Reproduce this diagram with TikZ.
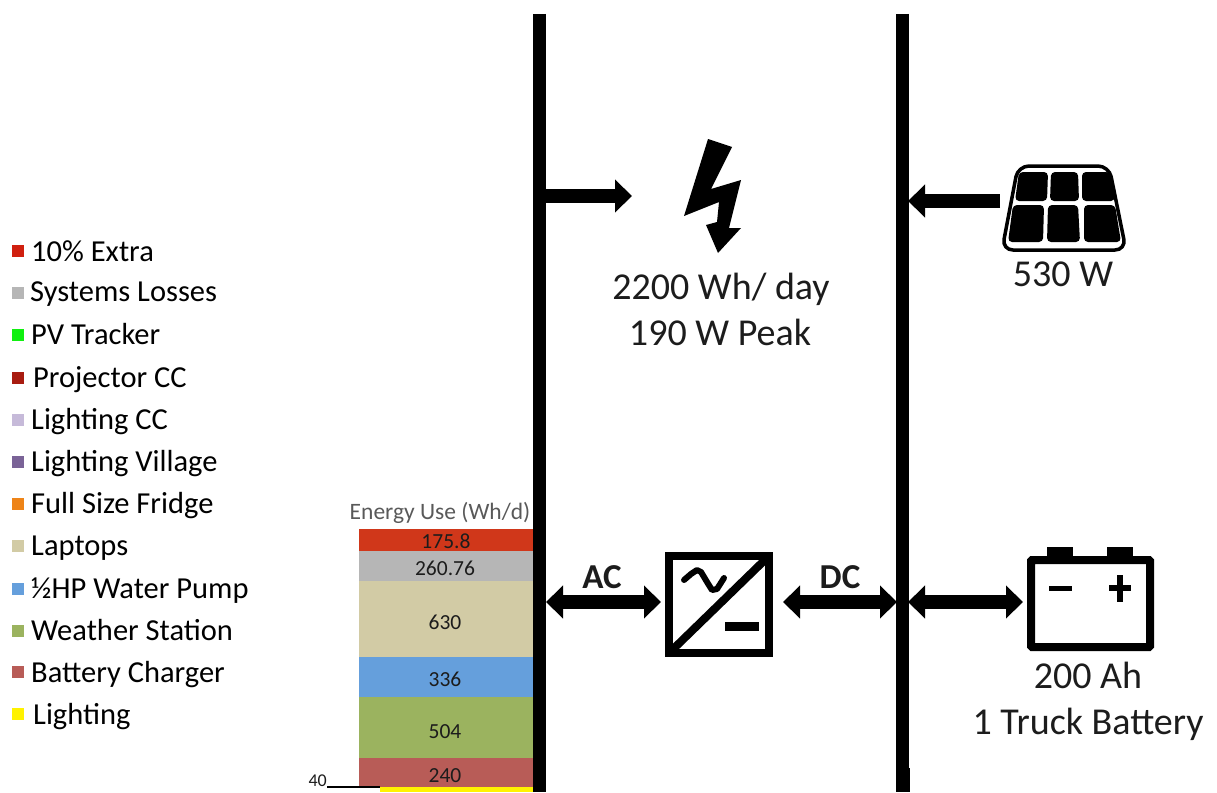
\documentclass[tikz,border=0pt]{standalone}
\usepackage{fontspec}
\setmainfont{Carlito}
\usetikzlibrary{arrows.meta}
\definecolor{extrared}{HTML}{D0371A}
\definecolor{keyred}{HTML}{D0200F}
\definecolor{lossgray}{HTML}{B6B6B6}
\definecolor{laptoptan}{HTML}{D2CBA5}
\definecolor{pumpblue}{HTML}{659FDC}
\definecolor{stationgreen}{HTML}{9BB35F}
\definecolor{chargerred}{HTML}{B85C57}
\definecolor{fridgeorange}{HTML}{EE8418}
\definecolor{villagepurple}{HTML}{7A6397}
\definecolor{ccpurple}{HTML}{C6BAD9}
\definecolor{projred}{HTML}{A81C10}
\definecolor{trackgreen}{HTML}{10F010}
\definecolor{textblack}{HTML}{1C1C1C}
\tikzset{
  legendbox/.style={minimum size=12pt,inner sep=0pt,outer sep=0pt},
  legendtext/.style={anchor=base west,inner sep=0pt,font=\fontsize{30.5}{30.5}\selectfont},
  barval/.style={anchor=base,inner sep=0pt,text=textblack,font=\fontsize{21.5}{21.5}\selectfont},
  caption/.style={anchor=base,inner sep=0pt,text=textblack,font=\fontsize{38}{38}\selectfont},
  wiretext/.style={anchor=base,inner sep=0pt,text=textblack,font=\fontsize{35}{35}\selectfont\bfseries},
  busline/.style={line width=13pt},
  flowarrow/.style={line width=14pt,-{Triangle[length=17pt,width=32pt]}},
  dualarrow/.style={line width=14pt,{Triangle[length=17pt,width=32pt]}-{Triangle[length=17pt,width=32pt]}},
}
\begin{document}
\begin{tikzpicture}[x=1pt,y=-1pt]
\clip (0,0) rectangle (1217,792);

% Draw the stacked bar
\fill[extrared] (359,529) rectangle (533,551);
\fill[lossgray] (359,551) rectangle (533,581);
\fill[laptoptan] (359,581) rectangle (533,657);
\fill[pumpblue] (359,657) rectangle (533,697);
\fill[stationgreen] (359,697) rectangle (533,758);
\fill[chargerred] (359,758) rectangle (533,787);
\fill[yellow] (380,787) rectangle (533,792);
\node[barval] (val175) at (446,548) {175.8};
\node[barval] (val260) at (445,575) {260.76};
\node[barval] (val630) at (445,629) {630};
\node[barval] (val336) at (445,686) {336};
\node[barval] (val504) at (445,738) {504};
\node[barval] (val240) at (445,782) {240};
\node[barval,text=black!65,font=\fontsize{23.5}{23.5}\selectfont] (energytitle) at (440,519) {Energy Use (Wh/d)};
\node[barval,anchor=base east,font=\fontsize{18}{18}\selectfont] (val40) at (327,786) {40};
\coordinate (tickleft) at (327,787);
\coordinate (tickright) at (380,787);
\draw[line width=2pt] (tickleft) -- (tickright);

% Draw the legend
\node[legendbox,fill=keyred] (key1) at (18,251) {};
\node[legendtext] (name1) at (31,261) {10\% Extra};
\node[legendbox,fill=lossgray] (key2) at (18,293) {};
\node[legendtext] (name2) at (30,301) {Systems Losses};
\node[legendbox,fill=trackgreen] (key3) at (18,335) {};
\node[legendtext] (name3) at (31,344) {PV Tracker};
\node[legendbox,fill=projred] (key4) at (18,378) {};
\node[legendtext] (name4) at (33,387) {Projector CC};
\node[legendbox,fill=ccpurple] (key5) at (18,420) {};
\node[legendtext] (name5) at (31,429) {Lighting CC};
\node[legendbox,fill=villagepurple] (key6) at (18,462) {};
\node[legendtext] (name6) at (31,471) {Lighting Village};
\node[legendbox,fill=fridgeorange] (key7) at (18,504) {};
\node[legendtext] (name7) at (31,513) {Full Size Fridge};
\node[legendbox,fill=laptoptan] (key8) at (18,546) {};
\node[legendtext] (name8) at (31,555) {Laptops};
\node[legendbox,fill=pumpblue] (key9) at (18,589) {};
\node[legendtext] (name9) at (31,598) {½HP Water Pump};
\node[legendbox,fill=stationgreen] (key10) at (18,631) {};
\node[legendtext] (name10) at (31,640) {Weather Station};
\node[legendbox,fill=chargerred] (key11) at (18,672) {};
\node[legendtext] (name11) at (31,682) {Battery Charger};
\node[legendbox,fill=yellow] (key12) at (18,714) {};
\node[legendtext] (name12) at (33,724) {Lighting};

% Draw the two bus lines
\coordinate (actop) at (539.5,14);
\coordinate (acbot) at (539.5,792);
\coordinate (dctop) at (902.5,14);
\coordinate (dcbot) at (902.5,792);
\draw[busline] (actop) -- (acbot);
\draw[busline] (dctop) -- (dcbot);
\fill (895.5,768) rectangle (909.5,792);

% Draw the load bolt
\fill (708,139) -- (732,147) -- (711,189) -- (741,180) -- (729,228) -- (741,228) -- (718,253)
  -- (706,225) -- (717,222) -- (719,202) -- (684,216) -- cycle;
\node[caption] (loadday) at (721,299) {2200 Wh/ day};
\node[caption] (loadpeak) at (720,345) {190 W Peak};

% Draw the solar panel
\draw[line width=3.5pt,rounded corners=11pt] (1018,166) -- (1109,166) -- (1126,250) -- (1002,250) -- cycle;
\fill[rounded corners=4pt] (1019,172) -- (1048,172) -- (1047,201) -- (1015,201) -- cycle;
\fill[rounded corners=4pt] (1051,172) -- (1078,172) -- (1079,201) -- (1050,201) -- cycle;
\fill[rounded corners=4pt] (1082,172) -- (1110,172) -- (1115,201) -- (1082,201) -- cycle;
\fill[rounded corners=4pt] (1013,205) -- (1044,205) -- (1043,242) -- (1008,242) -- cycle;
\fill[rounded corners=4pt] (1048,205) -- (1078,205) -- (1080,242) -- (1047,242) -- cycle;
\fill[rounded corners=4pt] (1084,205) -- (1115,205) -- (1121,242) -- (1084,242) -- cycle;
\node[caption] (panelwatt) at (1063,286) {530 W};

% Draw the converter
\node[draw,line width=7.5pt,minimum width=100pt,minimum height=97pt,inner sep=0pt] (conv) at (719,604.5) {};
\draw[line width=8pt,shorten <=6pt,shorten >=6pt] (conv.south west) -- (conv.north east);
\draw[line width=6pt,line cap=round,line join=round] (684,580) -- (691,574) -- (697,570) -- (701,572) -- (707,582) -- (712,590) -- (717,589) -- (724,578);
\fill (725,622) rectangle (759,631);

% Draw the battery
\draw[line width=8pt,rounded corners=1pt] (1031,560) rectangle (1150,647);
\fill (1047,547) rectangle (1073,557);
\fill (1107,547) rectangle (1133,557);
\fill (1049,585.5) rectangle (1072,590.5);
\fill (1109,585) rectangle (1131,591);
\fill (1117,575) rectangle (1123,602);
\node[caption] (batah) at (1088,688) {200 Ah};
\node[caption] (battruck) at (1088,734) {1 Truck Battery};

% Draw the arrows
\coordinate (acload) at (546,196);
\coordinate (loadin) at (632,196);
\coordinate (panelout) at (1000,201);
\coordinate (dcpanel) at (908,201);
\coordinate (acconv) at (546,602);
\coordinate (convac) at (661,602);
\coordinate (convdc) at (783,602);
\coordinate (dcconv) at (897,602);
\coordinate (dcbat) at (908,602);
\coordinate (batdc) at (1023,602);
\draw[flowarrow] (acload) -- (loadin);
\draw[flowarrow] (panelout) -- (dcpanel);
\draw[dualarrow] (acconv) -- (convac);
\draw[dualarrow] (convdc) -- (dcconv);
\draw[dualarrow] (dcbat) -- (batdc);
\node[wiretext] (aclabel) at (602,588) {AC};
\node[wiretext] (dclabel) at (840,588) {DC};
\end{tikzpicture}
\end{document}
